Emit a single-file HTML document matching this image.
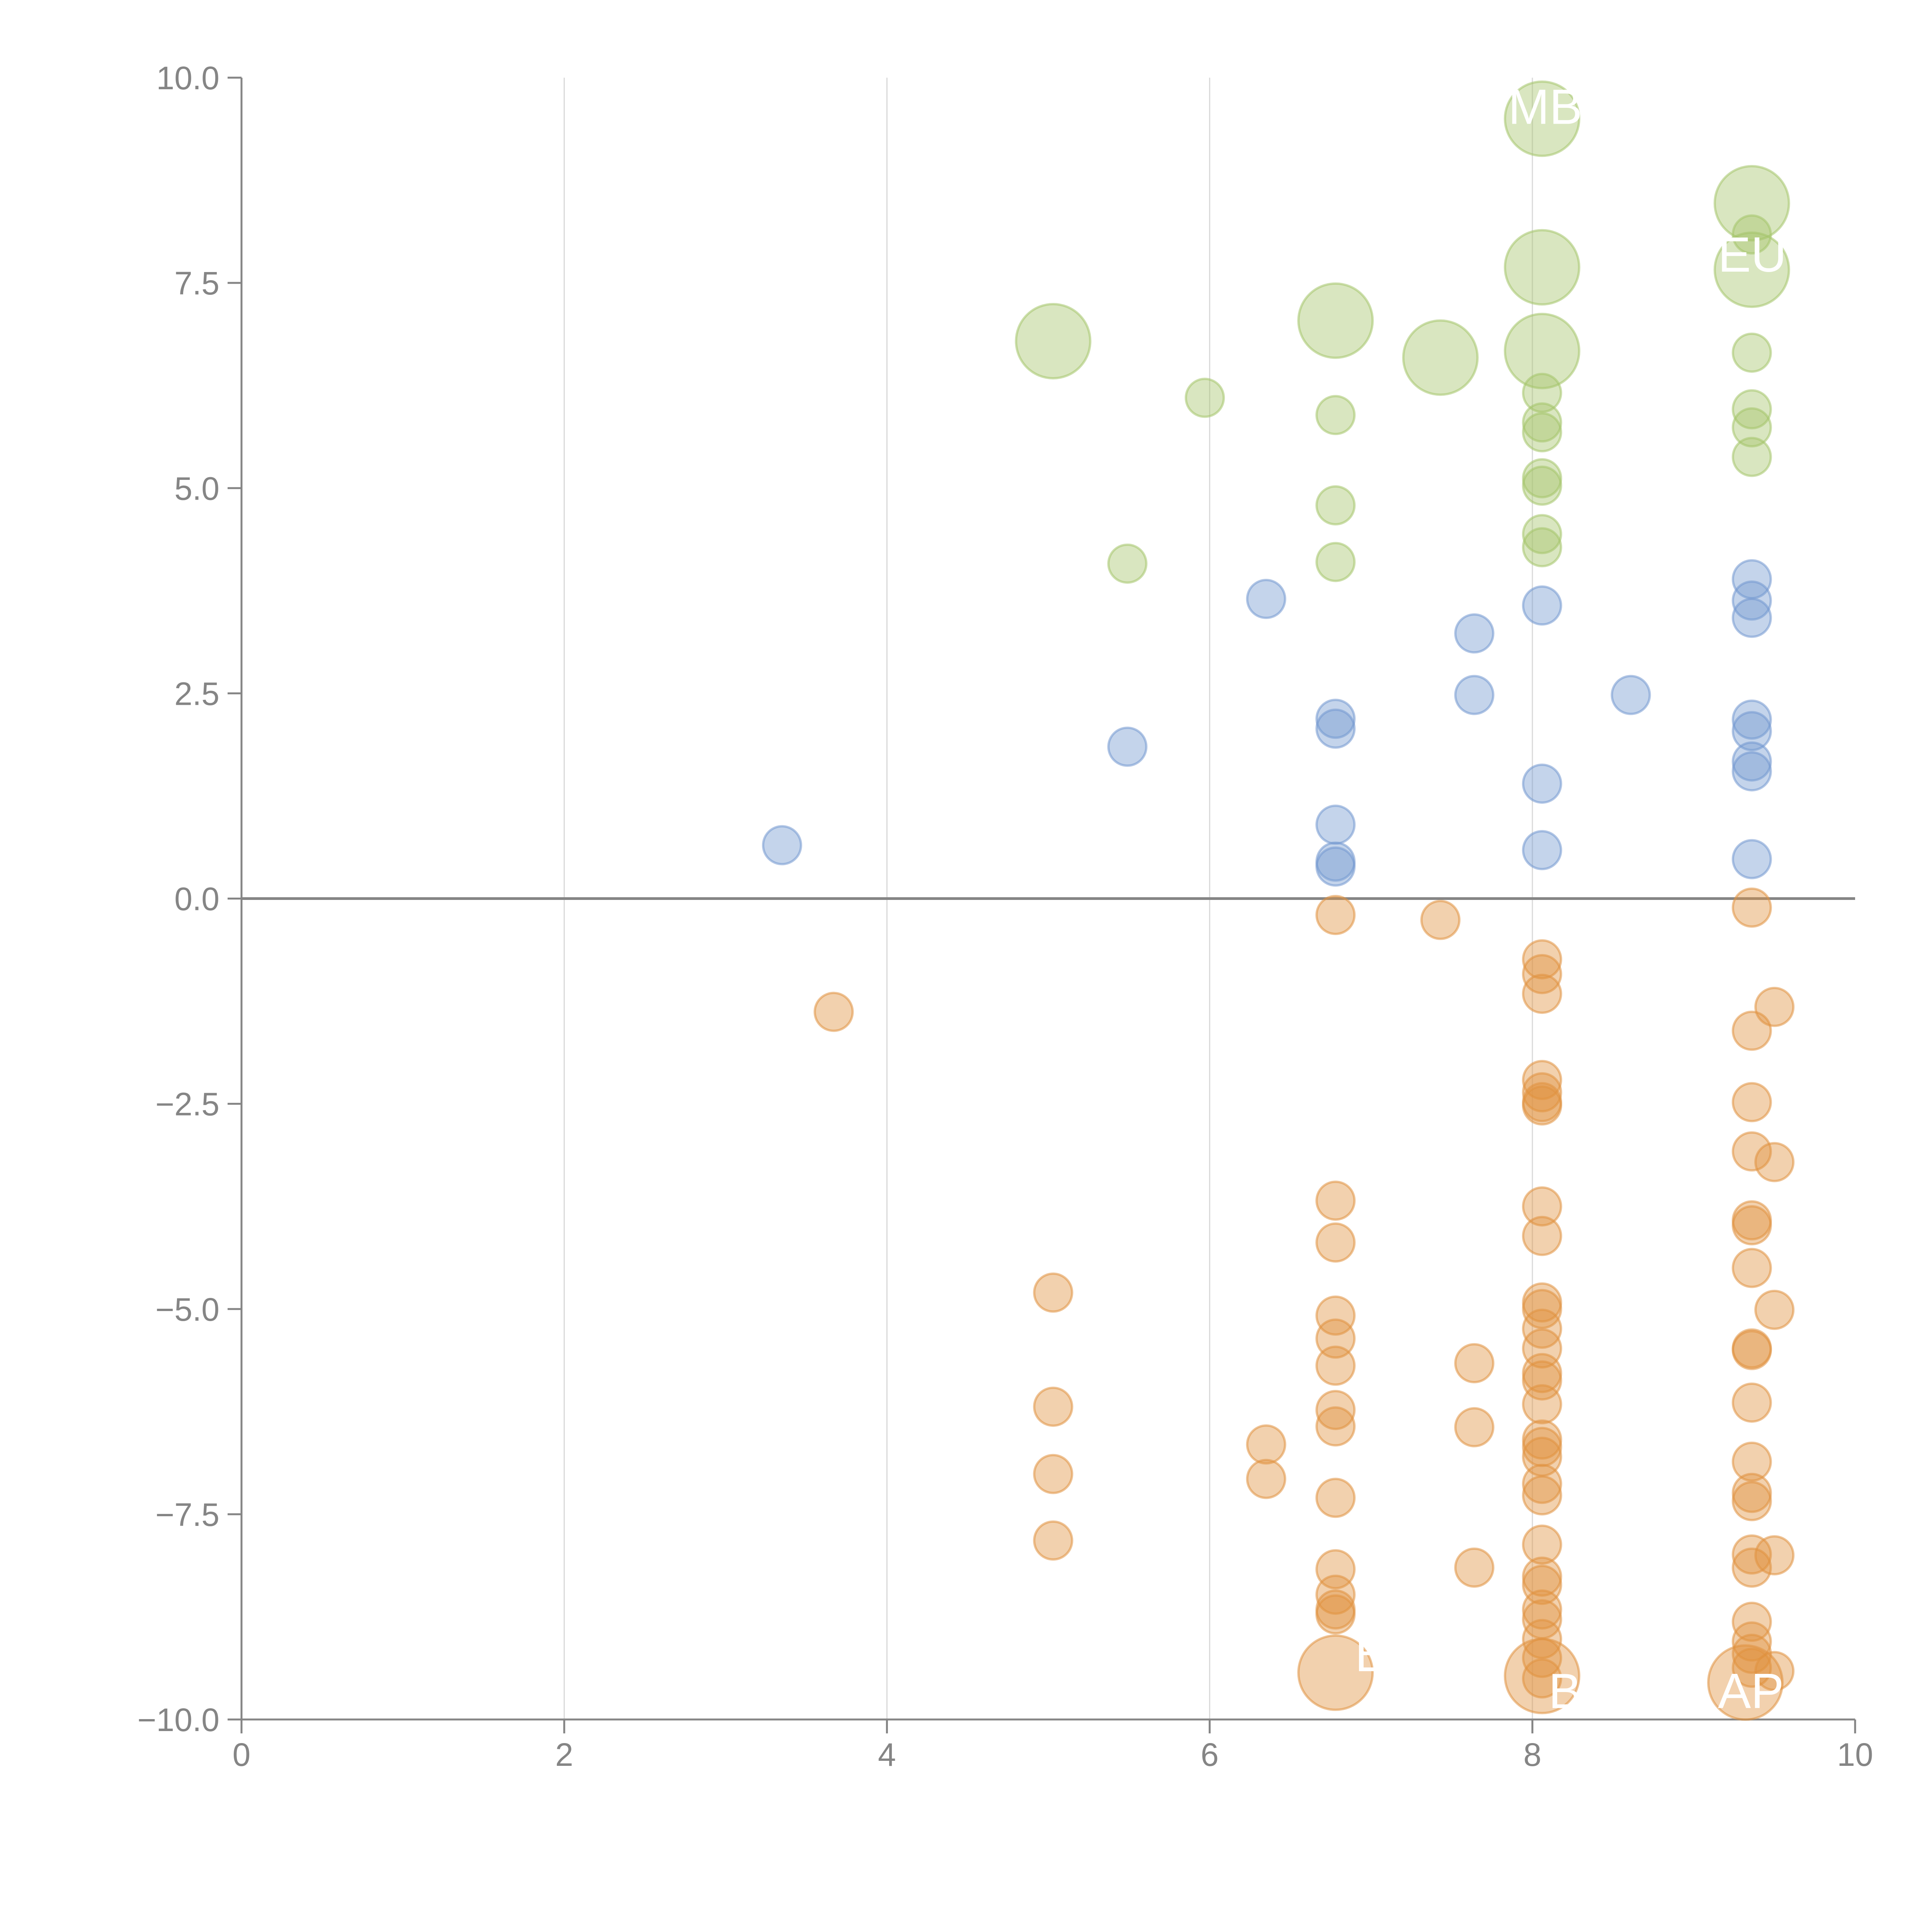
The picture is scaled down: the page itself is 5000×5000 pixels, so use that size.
<!DOCTYPE html>
<html><head><meta charset="utf-8"><style>
html,body{margin:0;padding:0;background:#fff;}
svg{display:block;font-family:"Liberation Sans",sans-serif;}
</style></head><body>
<svg id="chart" width="5000" height="5000" viewBox="0 0 5000 5000" xmlns="http://www.w3.org/2000/svg">
<g id="grid"></g>
<g id="axes"></g>
<g id="marks"></g>
<g id="labels"></g>
</svg>
<script>
const xTicks = [0, 2, 4, 6, 8, 10];
const yTicks = [10, 7.5, 5, 2.5, 0, -2.5, -5, -7.5, -10];
const yTickLabels = ["10.0", "7.5", "5.0", "2.5", "0.0", "\u22122.5", "\u22125.0", "\u22127.5", "\u221210.0"];

const greenX = [5.03,6.78,7.43,8.06,8.06,8.06,9.36,9.36, 5.97,5.49,6.78,6.78,6.78,9.36,8.06,8.06,8.06,8.06,8.06,8.06,8.06,9.36,9.36,9.36,9.36];
const greenY = [6.79,7.04,6.59,9.50,7.69,6.67,8.47,7.66, 6.10,4.08,5.89,4.79,4.10,8.09,6.16,5.80,5.68,5.12,5.03,4.44,4.28,6.65,5.96,5.74,5.38];
const greenBig = [1,1,1,1,1,1,1,1, 0,0,0,0,0,0,0,0,0,0,0,0,0,0,0,0,0];

const blueX = [3.35,5.49,6.35,6.78,6.78,6.78,6.78,6.78,7.64,7.64,8.06,8.06,8.06,8.61,9.36,9.36,9.36,9.36,9.36,9.36,9.36,9.36];
const blueY = [0.65,1.85,3.65,2.19,2.07,0.90,0.45,0.39,3.23,2.48,3.57,1.40,0.59,2.48,3.89,3.63,3.42,2.18,2.04,1.67,1.55,0.48];

const orangeX = [3.67,5.03,5.03,5.03,5.03,6.35,6.35,6.78,6.78,6.78,6.78,6.78,6.78,6.78,6.78,6.78,6.78,6.78,6.78,6.78,6.78,7.43,7.64,7.64,7.64,
 8.06,8.06,8.06,8.06,8.06,8.06,8.06,8.06,8.06,8.06,8.06,8.06,8.06,8.06,8.06,8.06,8.06,8.06,8.06,8.06,8.06,8.06,8.06,8.06,8.06,8.06,8.06,8.06,8.06,8.06,
 9.36,9.36,9.36,9.36,9.36,9.36,9.36,9.36,9.36,9.36,9.36,9.36,9.36,9.36,9.36,9.36,9.36,9.36,9.36,9.32,
 9.50,9.50,9.50,9.50,9.50];
const orangeY = [-1.38,-4.80,-6.19,-7.01,-7.82,-6.65,-7.07,-0.20,-3.68,-4.19,-5.08,-5.36,-5.69,-6.23,-6.43,-7.30,-8.17,-8.48,-8.66,-8.72,-9.43,-0.26,-5.66,-6.44,-8.15,
 -0.74,-0.92,-1.16,-2.21,-2.36,-2.48,-2.52,-3.75,-4.11,-4.92,-5.00,-5.24,-5.48,-5.78,-5.87,-6.16,-6.59,-6.68,-6.80,-7.13,-7.27,-7.87,-8.26,-8.36,-8.66,-8.78,-9.02,-9.25,-9.50,-9.47,
 -0.11,-1.61,-2.48,-3.08,-3.92,-3.98,-4.50,-5.48,-5.50,-6.14,-6.86,-7.24,-7.34,-7.99,-8.15,-8.81,-9.05,-9.20,-9.37,-9.55,
 -1.32,-3.21,-5.01,-8.00,-9.41];
const orangeBig = orangeY.map((v,i)=> (i===20||i===54||i===74)?1:0);

const labelText = ["MBA","EU","B","B","AP"];
const labelX = [7.85,9.15,6.9,8.1,9.15];
const labelY = [9.65,7.85,-9.2,-9.65,-9.65];

const X0=625, X1=4801, Y0=4450, Y1=201;
function sx(v){return X0+(v-0)/(10-0)*(X1-X0);}
function sy(v){return Y0-(v+10)/20*(Y0-Y1);}
const NS="http://www.w3.org/2000/svg";
function mk(tag,attrs,parent){const e=document.createElementNS(NS,tag);for(const k in attrs)e.setAttribute(k,attrs[k]);parent.appendChild(e);return e;}

const grid=document.getElementById('grid'), axes=document.getElementById('axes'), marks=document.getElementById('marks'), labels=document.getElementById('labels');
xTicks.forEach(t=>{
  if(t>0&&t<10){const l=mk('line',{x1:sx(t),x2:sx(t),y1:Y1,y2:Y0,stroke:'#d9d9d9','stroke-width':3},grid);
  
  }
  const tk=mk('line',{x1:sx(t),x2:sx(t),y1:Y0,y2:Y0+36,stroke:'#858585','stroke-width':5},axes);
  
  
  const tx=mk('text',{x:sx(t),y:Y0+120,'text-anchor':'middle','font-size':84,fill:'#858585'},axes);
  tx.textContent=t;
  
  
});
yTicks.forEach((t,i)=>{
  const tk=mk('line',{x1:X0-36,x2:X0,y1:sy(t),y2:sy(t),stroke:'#858585','stroke-width':5},axes);
  
  
  const tx=mk('text',{x:X0-57,y:sy(t)+30,'text-anchor':'end','font-size':84,fill:'#858585'},axes);
  tx.textContent=yTickLabels[i];
  
  
});
const ya=mk('line',{x1:X0,x2:X0,y1:Y1,y2:Y0,stroke:'#858585','stroke-width':5},axes);


const xa=mk('line',{x1:X0,x2:X1,y1:Y0,y2:Y0,stroke:'#858585','stroke-width':5},axes);


const zl=mk('line',{x1:X0,x2:X1,y1:sy(0),y2:sy(0),stroke:'#858585','stroke-width':7},axes);



function series(xs,ys,bigs,fill,name){
  xs.forEach((x,i)=>{
    const r=(bigs&&bigs[i])?96:49;
    const c=mk('circle',{cx:sx(x),cy:sy(ys[i]),r:r,fill:fill,'fill-opacity':0.42,stroke:fill,'stroke-opacity':0.55,'stroke-width':6},marks);
    
    
  });
}
series(greenX,greenY,greenBig,'#a4c46a','green-bubble');
series(blueX,blueY,null,'#7398cf','blue-bubble');
series(orangeX,orangeY,orangeBig,'#e0923f','orange-bubble');

labelText.forEach((s,i)=>{
  const t=mk('text',{x:sx(labelX[i]),y:sy(labelY[i])+45,'font-size':128,fill:'#ffffff'},labels);
  t.textContent=s;
  
  
});
</script>
</body></html>
